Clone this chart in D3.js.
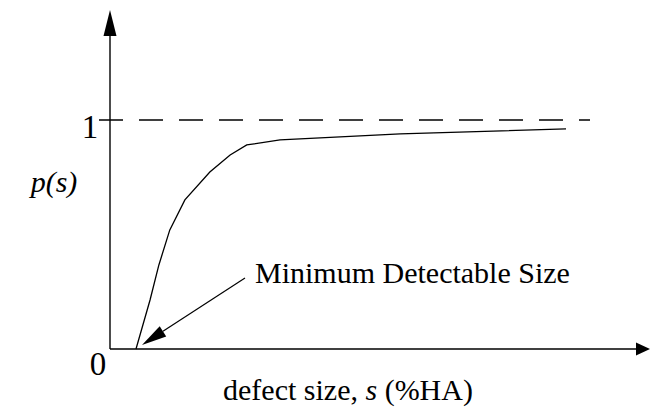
<!DOCTYPE html>
<html>
<head>
<meta charset="utf-8">
<script src="https://cdn.jsdelivr.net/npm/d3@7"></script>
<style>
  body { margin: 0; background: #fff; }
  svg { display: block; }
  svg text { font-family: "Liberation Serif", "DejaVu Serif", serif; fill: #000; }
</style>
</head>
<body>
<div class="chart"></div>
<script>
// curve values (x in arbitrary size units, p from 0 to 1)
var sizes = [0.5, 0.77, 0.94, 1.15, 1.44, 1.92, 2.31, 2.63, 3.27, 5.58, 8.77];
var probs = [0, 0.214, 0.367, 0.52, 0.651, 0.773, 0.847, 0.891, 0.913, 0.939, 0.961];

// tick labels on the y axis
var yTicks = [0, 1];
var yTickLabels = ["0", "1"];

var serif = "'Liberation Serif', 'DejaVu Serif', serif";

var svgWidth = 652;
var svgHeight = 412;

var svg = d3.select(".chart")
  .append("svg")
  .attr("width", svgWidth)
  .attr("height", svgHeight)
  .attr("font-family", serif);

// scales
var xScale = d3.scaleLinear()
  .domain([0, 10])
  .range([110, 630]);

var yScale = d3.scaleLinear()
  .domain([0, 1])
  .range([349, 120]);

var x0 = xScale(0);
var y0 = yScale(0);

// axes with arrowheads
svg.append("line")
  .attr("x1", x0).attr("y1", y0)
  .attr("x2", x0).attr("y2", 30)
  .attr("stroke", "#000")
  .attr("stroke-width", 1.4);

svg.append("path")
  .attr("d", `M${x0},10 L${x0 - 6.5},36 L${x0 + 6.5},36 Z`)
  .attr("fill", "#000");

svg.append("line")
  .attr("x1", x0).attr("y1", y0)
  .attr("x2", 640).attr("y2", y0)
  .attr("stroke", "#000")
  .attr("stroke-width", 1.4);

svg.append("path")
  .attr("d", `M650,${y0} L636,${y0 - 6.5} L636,${y0 + 6.5} Z`)
  .attr("fill", "#000");

// dashed asymptote at p = 1 (the first dash doubles as the tick)
svg.append("line")
  .attr("x1", x0 - 11).attr("y1", yScale(1))
  .attr("x2", 590).attr("y2", yScale(1))
  .attr("stroke", "#000")
  .attr("stroke-width", 1.3)
  .attr("stroke-dasharray", "24,16");

// tick labels
svg.selectAll(".ylab")
  .data(yTicks)
  .enter()
  .append("text")
  .attr("class", "ylab")
  .attr("text-anchor", "middle")
  .attr("x", (d, i) => i === 0 ? x0 - 12 : x0 - 20)
  .attr("y", (d, i) => i === 0 ? yScale(d) + 26 : yScale(d) + 18)
  .style("font-family", serif)
  .style("font-size", "33px")
  .text((d, i) => yTickLabels[i]);

// curve
var line = d3.line()
  .x((d, i) => xScale(sizes[i]))
  .y(d => yScale(d));

svg.append("path")
  .datum(probs)
  .attr("d", line)
  .attr("fill", "none")
  .attr("stroke", "#000")
  .attr("stroke-width", 1.3);

// annotation arrow pointing at the minimum detectable size
var tipX = xScale(sizes[0]) + 6;
var tipY = yScale(probs[0]) - 4;
var startX = 245, startY = 278;
var dx = startX - tipX, dy = startY - tipY;
var len = Math.sqrt(dx * dx + dy * dy);
var ux = dx / len, uy = dy / len;
var bx = tipX + ux * 25, by = tipY + uy * 25;

svg.append("line")
  .attr("x1", startX).attr("y1", startY)
  .attr("x2", bx).attr("y2", by)
  .attr("stroke", "#000")
  .attr("stroke-width", 1.2);

svg.append("path")
  .attr("d", `M${tipX},${tipY} L${bx - uy * 6},${by + ux * 6} L${bx + uy * 6},${by - ux * 6} Z`)
  .attr("fill", "#000");

svg.append("text")
  .attr("x", 255)
  .attr("y", 283)
  .style("font-family", serif)
  .style("font-size", "30px")
  .text("Minimum Detectable Size");

// axis titles
svg.append("text")
  .attr("x", 54)
  .attr("y", 192)
  .attr("text-anchor", "middle")
  .style("font-family", serif)
  .style("font-size", "30px")
  .style("font-style", "italic")
  .text("p(s)");

var xTitle = svg.append("text")
  .attr("x", 348)
  .attr("y", 400)
  .attr("text-anchor", "middle")
  .style("font-family", serif)
  .style("font-size", "30px");
xTitle.append("tspan").text("defect size, ");
xTitle.append("tspan").style("font-style", "italic").text("s");
xTitle.append("tspan").text(" (%HA)");
</script>
</body>
</html>
